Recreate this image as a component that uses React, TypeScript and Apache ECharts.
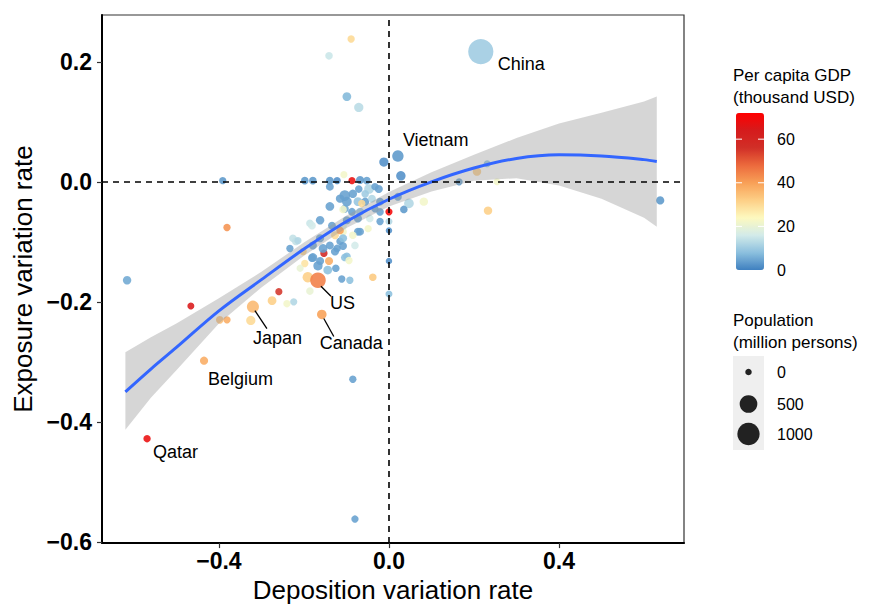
import React, { useEffect, useRef } from "react";
import * as echarts from "echarts";

// ---------- data ----------
const labeledCountries = ["China", "Vietnam", "US", "Japan", "Canada", "Belgium", "Qatar"];
const labeledDeposition = [0.216, 0.021, -0.167, -0.32, -0.158, -0.435, -0.569];
const labeledExposure = [0.217, 0.043, -0.164, -0.208, -0.221, -0.298, -0.428];
const labeledGdp = [10, 3, 45, 36, 40, 38, 68];
const labeledPopulation = [1400, 97, 330, 125, 38, 11, 3];

const depositionRate = [
  -0.089, -0.141, -0.099, -0.071, -0.012, -0.391, 0.028, 0.165, 0.207, 0.231, 0.254, 0.021, 0.047, 0.082,
  0.035, 0.0, 0.0, 0.0, 0.0, 0.0, 0.233, 0.638, -0.616, -0.381, -0.466, -0.398, -0.381, -0.325, -0.275,
  -0.259, -0.24, -0.224, -0.085, -0.08, -0.191, -0.111, -0.092, -0.038, -0.186, -0.202, -0.179, -0.153,
  -0.162, -0.141, -0.122, -0.115, -0.099, -0.08, -0.068, -0.108, -0.167, -0.144, -0.219, -0.226, -0.186,
  -0.198, -0.179, -0.139, -0.122, -0.106, -0.087, -0.068, -0.052, -0.047, -0.024, -0.139, -0.071, -0.104,
  -0.085, -0.056, -0.073, -0.021, -0.139, -0.099, -0.104, -0.068, -0.021, -0.045, -0.021, -0.073, -0.108,
  -0.162, -0.181, -0.134, -0.108, -0.127, -0.115, -0.099, -0.073, -0.108, -0.085, -0.162, -0.179, -0.155,
  -0.139, -0.127, -0.108, -0.181, -0.104, -0.056, -0.04, -0.033, -0.115, -0.049, -0.214, -0.233, -0.198,
  -0.209, -0.094, -0.125, -0.087, -0.033, -0.064,
];
const exposureRate = [
  0.238, 0.21, 0.142, 0.124, 0.033, 0.002, 0.01, 0.0, 0.017, 0.03, 0.0, -0.025, -0.036, -0.033, -0.046,
  -0.05, -0.066, -0.081, -0.132, -0.187, -0.048, -0.031, -0.164, -0.076, -0.207, -0.23, -0.23, -0.231,
  -0.198, -0.183, -0.203, -0.2, -0.329, -0.562, -0.159, -0.162, -0.164, -0.159, -0.182, -0.116, -0.126,
  -0.119, -0.132, -0.132, -0.111, -0.099, -0.124, -0.106, -0.083, -0.083, -0.14, -0.147, -0.099, -0.094,
  -0.069, 0.002, 0.002, 0.002, 0.002, 0.012, 0.002, 0.003, 0.002, -0.012, -0.012, -0.008, -0.012, -0.023,
  -0.02, -0.033, -0.033, -0.033, -0.041, -0.033, -0.045, -0.05, -0.05, -0.061, -0.066, -0.061, -0.046,
  -0.064, -0.073, -0.073, -0.074, -0.089, -0.081, -0.064, -0.083, -0.094, -0.089, -0.094, -0.106, -0.111,
  -0.106, -0.116, -0.107, -0.127, -0.126, -0.02, -0.028, -0.045, -0.028, -0.078, -0.098, -0.111, -0.136,
  -0.144, -0.131, -0.144, -0.05, -0.008, -0.036,
];
const gdpPerCapita = [
  30, 15, 7, 13, 2, 3, 2, 3, 33, 8, 22, 4, 12, 22, 3, 70, 12, 2, 2, 8, 32, 3, 5, 42, 65, 35, 38, 30, 32,
  55, 22, 12, 4, 4, 32, 4, 8, 33, 20, 32, 4, 60, 4, 38, 4, 4, 8, 16, 4, 22, 4, 8, 14, 14, 15, 3, 3, 3, 2,
  22, 68, 3, 4, 12, 4, 4, 4, 4, 4, 4, 9, 4, 4, 4, 5, 9, 4, 16, 4, 4, 22, 4, 16, 4, 18, 30, 40, 4, 4, 8, 22,
  4, 4, 4, 4, 4, 4, 4, 8, 10, 12, 4, 4, 22, 12, 4, 28, 20, 22, 4, 4, 4, 30,
];
const populationMillion = [
  3, 5, 20, 30, 30, 3, 35, 2, 15, 1, 1, 8, 40, 15, 5, 2, 1, 0, 0, 1, 15, 12, 15, 3, 1, 5, 3, 30, 20, 2, 3,
  2, 3, 3, 60, 3, 3, 5, 5, 3, 20, 3, 10, 10, 5, 5, 5, 5, 8, 5, 30, 20, 8, 5, 5, 5, 5, 8, 3, 2, 2, 10, 5, 40,
  10, 8, 5, 70, 15, 10, 20, 8, 20, 40, 10, 10, 5, 5, 3, 10, 5, 15, 5, 8, 5, 8, 5, 10, 8, 10, 5, 10, 10, 20,
  8, 10, 8, 8, 5, 5, 8, 3, 15, 3, 2, 3, 3, 2, 3, 5, 8, 3, 3,
];

// quadratic smooth and its confidence band
const fitX = [-0.62, -0.56, -0.5, -0.4, -0.3, -0.2, -0.1, 0, 0.1, 0.2, 0.3, 0.4, 0.5, 0.6, 0.63];
const fitY = [-0.35, -0.312, -0.276, -0.215, -0.163, -0.112, -0.066, -0.029, 0.0, 0.023, 0.039, 0.045, 0.043, 0.037, 0.034];
const bandUpper = [-0.284, -0.259, -0.236, -0.194, -0.15, -0.101, -0.056, -0.017, 0.016, 0.045, 0.073, 0.097, 0.115, 0.134, 0.142];
const bandLower = [-0.413, -0.36, -0.314, -0.236, -0.176, -0.123, -0.077, -0.041, -0.016, 0.002, 0.006, -0.006, -0.028, -0.06, -0.075];

const xTicks = [-0.4, 0, 0.4];
const yTicks = [-0.6, -0.4, -0.2, 0, 0.2];
const gdpTicks = [0, 20, 40, 60];
const populationTicks = [0, 500, 1000];

// ---------- styles ----------
const FONT = "'Liberation Sans', Arial, Helvetica, sans-serif";
const GDP_MAX = 72;
const gdpColors = [
  "#3f80c0", "#8cc0de", "#d3ebe9", "#fdf9bf", "#fdcf86", "#f8a057", "#ec6a3d", "#d12f27", "#d51b1c", "#ff0000",
];
const sizeOf = (pop: number) => 6.5 + 0.5 * Math.sqrt(Math.max(pop, 0));
const fmt = (v: number) => {
  const s = Math.abs(v) < 1e-9 ? "0.0" : v.toFixed(1);
  return s.replace("-", "\u2212");
};

// label placement (pixel offsets from the point), style only
const labelStyle: Record<string, { tx: number; ty: number; line?: number[] }> = {
  China: { tx: 17, ty: 12 },
  Vietnam: { tx: 5, ty: -16 },
  US: { tx: 12, ty: 23, line: [3, 6, 13, 16] },
  Japan: { tx: 0, ty: 31, line: [2, 4, 14, 22] },
  Canada: { tx: -2, ty: 29, line: [2, 4, 12, 22] },
  Belgium: { tx: 4, ty: 18 },
  Qatar: { tx: 6, ty: 13 },
};

export default function App() {
  const ref = useRef<HTMLDivElement>(null);

  useEffect(() => {
    if (!ref.current) return;
    const chart = echarts.init(ref.current, undefined, { renderer: "svg" });

    const others = depositionRate.map((x, i) => [x, exposureRate[i], gdpPerCapita[i], populationMillion[i]]);
    const named = labeledCountries.map((_, i) => [
      labeledDeposition[i],
      labeledExposure[i],
      labeledGdp[i],
      labeledPopulation[i],
    ]);
    const scatterData = [...others, ...named];

    const ax = {
      type: "value",
      splitLine: { show: false },
      axisLine: { show: true, onZero: false, lineStyle: { color: "#000", width: 2 } },
      nameLocation: "middle",
      nameTextStyle: { fontSize: 26, color: "#000", fontFamily: FONT },
    };

    const labelX = 777;
    const barTop = 113;
    const barH = 157;
    const barLeft = 736;
    const barW = 28;
    const gdpY = (v: number) => barTop + barH - (v / GDP_MAX) * barH;
    const popRowY = [372, 404, 434];

    const graphics: any[] = [
      { type: "text", left: 733, top: 67, style: { text: "Per capita GDP", font: `17px ${FONT}`, fill: "#000" } },
      { type: "text", left: 733, top: 89, style: { text: "(thousand USD)", font: `17px ${FONT}`, fill: "#000" } },
      { type: "text", left: 733, top: 312, style: { text: "Population", font: `17px ${FONT}`, fill: "#000" } },
      { type: "text", left: 733, top: 334, style: { text: "(million persons)", font: `17px ${FONT}`, fill: "#000" } },
      { type: "rect", shape: { x: 733, y: 356, width: 31, height: 94 }, style: { fill: "#efefef" } },
    ];
    gdpTicks.forEach((v) => {
      graphics.push({
        type: "text",
        x: labelX,
        y: gdpY(v),
        style: { text: String(v), font: `16px ${FONT}`, fill: "#000", verticalAlign: "middle", align: "left" },
      });
      if (v > 0) {
        graphics.push({
          type: "line",
          shape: { x1: barLeft, y1: gdpY(v), x2: barLeft + 6, y2: gdpY(v) },
          style: { stroke: "#fff", lineWidth: 1 },
          z: 100,
        });
        graphics.push({
          type: "line",
          shape: { x1: barLeft + barW - 6, y1: gdpY(v), x2: barLeft + barW, y2: gdpY(v) },
          style: { stroke: "#fff", lineWidth: 1 },
          z: 100,
        });
      }
    });
    populationTicks.forEach((v, i) => {
      graphics.push({
        type: "circle",
        shape: { cx: 748.5, cy: popRowY[i], r: sizeOf(v) / 2 },
        style: { fill: "#222" },
      });
      graphics.push({
        type: "text",
        x: labelX,
        y: popRowY[i],
        style: { text: String(v), font: `16px ${FONT}`, fill: "#000", verticalAlign: "middle", align: "left" },
      });
    });

    chart.setOption({
      animation: false,
      backgroundColor: "#fff",
      grid: { left: 102, right: 187, top: 15, bottom: 61, show: true, borderColor: "#333", borderWidth: 1.2 },
      xAxis: {
        ...ax,
        min: -0.675,
        max: 0.694,
        name: "Deposition variation rate",
        nameGap: 32,
        axisTick: { show: true, customValues: xTicks, length: 5, lineStyle: { color: "#333", width: 1.2 } },
        axisLabel: {
          customValues: xTicks,
          formatter: (v: number) => fmt(v),
          fontSize: 23,
          fontWeight: "bold",
          color: "#000",
          fontFamily: FONT,
          margin: 6,
        },
      },
      yAxis: {
        ...ax,
        min: -0.602,
        max: 0.278,
        name: "Exposure variation rate",
        nameGap: 66,
        axisTick: { show: true, customValues: yTicks, length: 5, lineStyle: { color: "#333", width: 1.2 } },
        axisLabel: {
          customValues: yTicks,
          formatter: (v: number) => fmt(v),
          fontSize: 23,
          fontWeight: "bold",
          color: "#000",
          fontFamily: FONT,
          margin: 10,
        },
      },
      visualMap: {
        type: "continuous",
        seriesIndex: 0,
        dimension: 2,
        min: 0,
        max: GDP_MAX,
        left: barLeft,
        top: barTop,
        itemWidth: barW,
        itemHeight: barH,
        padding: 0,
        calculable: false,
        hoverLink: false,
        realtime: false,
        inRange: { color: gdpColors },
        textStyle: { color: "transparent" },
      },
      graphic: graphics,
      series: [
        {
          type: "scatter",
          z: 2,
          data: scatterData,
          symbolSize: (val: number[]) => sizeOf(val[3]),
          itemStyle: { opacity: 0.88 },
          emphasis: { disabled: true },
        },
        {
          type: "custom",
          z: 3,
          silent: true,
          data: [0],
          renderItem: (_params: any, api: any) => {
            const pts: number[][] = [];
            fitX.forEach((x, i) => pts.push(api.coord([x, bandUpper[i]])));
            for (let i = fitX.length - 1; i >= 0; i--) pts.push(api.coord([fitX[i], bandLower[i]]));
            return { type: "polygon", shape: { points: pts }, style: { fill: "rgba(153,153,153,0.4)" } };
          },
        },
        {
          type: "line",
          z: 4,
          silent: true,
          smooth: 0.35,
          showSymbol: false,
          data: fitX.map((x, i) => [x, fitY[i]]),
          lineStyle: { color: "#3366ff", width: 3 },
        },
        {
          type: "line",
          z: 5,
          data: [],
          markLine: {
            silent: true,
            symbol: ["none", "none"],
            label: { show: false },
            lineStyle: { color: "#000", type: [6, 5], width: 1.6 },
            data: [{ xAxis: 0 }, { yAxis: 0 }],
          },
        },
        {
          type: "custom",
          z: 6,
          silent: true,
          data: labeledCountries.map((_, i) => [labeledDeposition[i], labeledExposure[i]]),
          renderItem: (params: any, api: any) => {
            const name = labeledCountries[params.dataIndex];
            const st = labelStyle[name];
            const p = api.coord([api.value(0), api.value(1)]);
            const children: any[] = [
              {
                type: "text",
                x: p[0] + st.tx,
                y: p[1] + st.ty,
                style: {
                  text: name,
                  fill: "#000",
                  font: `18px ${FONT}`,
                  align: "left",
                  verticalAlign: "middle",
                },
              },
            ];
            if (st.line) {
              children.push({
                type: "line",
                shape: {
                  x1: p[0] + st.line[0],
                  y1: p[1] + st.line[1],
                  x2: p[0] + st.line[2],
                  y2: p[1] + st.line[3],
                },
                style: { stroke: "#000", lineWidth: 1.3 },
              });
            }
            return { type: "group", children };
          },
        },
      ],
    });

    return () => chart.dispose();
  }, []);

  return <div ref={ref} style={{ position: "fixed", left: 0, top: 0, width: 871, height: 608 }} />;
}
